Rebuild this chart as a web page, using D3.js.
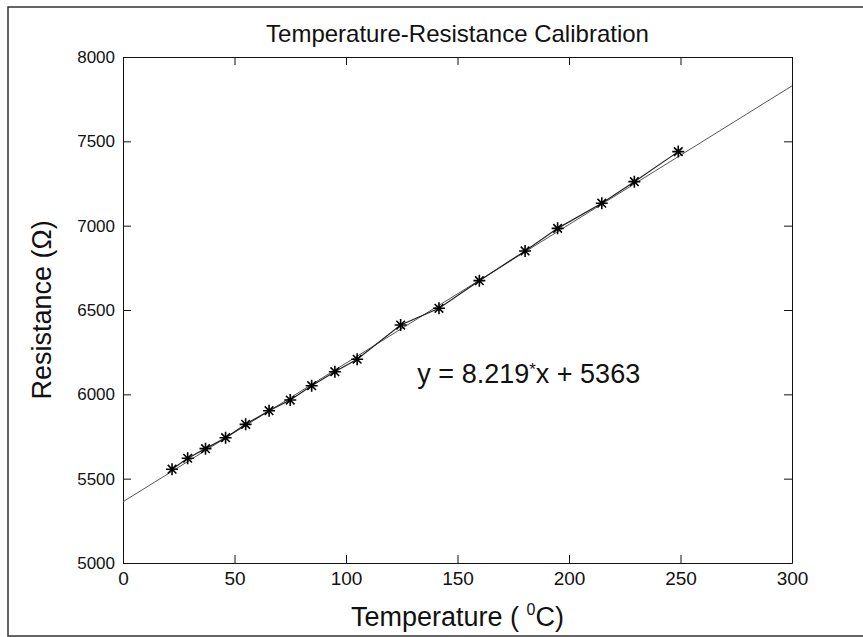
<!DOCTYPE html>
<html>
<head>
<meta charset="utf-8">
<script src="https://cdn.jsdelivr.net/npm/d3@7"></script>
<style>
  body { margin: 0; background: #fff; }
  svg text { font-family: "Liberation Sans", Arial, sans-serif; fill: #111; }
</style>
</head>
<body>
<svg id="chart"></svg>
<script>
// measured calibration points (temperature in C, resistance in ohms)
const temperature = [22, 29, 37, 46, 55, 65.5, 75, 84.6, 95, 105, 124.5, 141.7, 159.8, 180.3, 194.9, 214.7, 229.3, 249];
const resistance = [5556, 5621, 5678, 5743, 5822, 5903, 5966, 6051, 6134, 6208, 6411, 6510, 6674, 6850, 6984, 7133, 7261, 7439];

// linear fit reported on the chart
const fitSlope = 8.219;
const fitIntercept = 5363;
const fitRange = [0, 300];

const xTicks = [0, 50, 100, 150, 200, 250, 300];
const yTicks = [5000, 5500, 6000, 6500, 7000, 7500, 8000];

const margin = { top: 57, right: 71, bottom: 74, left: 123 };
const width = 863 - margin.left - margin.right;
const height = 637 - margin.top - margin.bottom;

const root = d3.select("#chart")
    .attr("width", 863)
    .attr("height", 637);

// outer figure frame
root.append("rect")
    .attr("x", 8)
    .attr("y", 7)
    .attr("width", 900)
    .attr("height", 629)
    .attr("fill", "none")
    .attr("stroke", "#333")
    .attr("stroke-width", 1.5);

const svg = root.append("g")
    .attr("transform", `translate(${margin.left},${margin.top})`);

const x = d3.scaleLinear().domain([0, 300]).range([0, width]);
const y = d3.scaleLinear().domain([5000, 8000]).range([height, 0]);

// axes, ticks pointing inward like matlab
svg.append("g")
    .attr("transform", `translate(0,${height})`)
    .call(d3.axisBottom(x).tickValues(xTicks).tickSizeInner(-8).tickSizeOuter(0).tickPadding(8).tickFormat(d3.format("d")))
    .call(g => g.selectAll("text").style("font-size", "19px").attr("dy", "0.72em"));

svg.append("g")
    .call(d3.axisTop(x).tickValues(xTicks).tickSizeInner(-8).tickSizeOuter(0).tickFormat(""));

svg.append("g")
    .call(d3.axisLeft(y).tickValues(yTicks).tickSizeInner(-8).tickSizeOuter(0).tickPadding(8).tickFormat(d3.format("d")))
    .call(g => g.selectAll("text").style("font-size", "17px"));

svg.append("g")
    .attr("transform", `translate(${width},0)`)
    .call(d3.axisRight(y).tickValues(yTicks).tickSizeInner(-8).tickSizeOuter(0).tickFormat(""));

svg.selectAll(".domain, .tick line").attr("stroke", "#111");

// fit line
svg.append("line")
    .attr("x1", x(fitRange[0]))
    .attr("y1", y(fitSlope * fitRange[0] + fitIntercept))
    .attr("x2", x(fitRange[1]))
    .attr("y2", y(fitSlope * fitRange[1] + fitIntercept))
    .attr("stroke", "#555")
    .attr("stroke-width", 1);

// data line
const pts = temperature.map((t, i) => [t, resistance[i]]);
svg.append("path")
    .datum(pts)
    .attr("fill", "none")
    .attr("stroke", "#222")
    .attr("stroke-width", 1.2)
    .attr("d", d3.line().x(d => x(d[0])).y(d => y(d[1])));

// asterisk markers
const r = 6, rd = 4.3;
const star = `M${-r},0L${r},0M0,${-r}L0,${r}M${-rd},${-rd}L${rd},${rd}M${-rd},${rd}L${rd},${-rd}`;
svg.selectAll(".marker")
    .data(pts)
    .enter()
    .append("path")
    .attr("class", "marker")
    .attr("transform", d => `translate(${x(d[0])},${y(d[1])})`)
    .attr("d", star)
    .attr("stroke", "#000")
    .attr("stroke-width", 1.6)
    .attr("fill", "none");

// equation label
const eq = svg.append("text")
    .attr("x", x(132))
    .attr("y", 383 - margin.top)
    .style("font-size", "27px");
eq.append("tspan").text(`y = ${fitSlope}`);
eq.append("tspan").attr("dy", -8).style("font-size", "17px").text("*");
eq.append("tspan").attr("dy", 8).text(`x + ${fitIntercept}`);

// title
svg.append("text")
    .attr("x", width / 2)
    .attr("y", -15)
    .attr("text-anchor", "middle")
    .style("font-size", "24px")
    .text("Temperature-Resistance Calibration");

// x label
const xl = svg.append("text")
    .attr("x", width / 2)
    .attr("y", height + 63)
    .attr("text-anchor", "middle")
    .style("font-size", "27px");
xl.append("tspan").text("Temperature ( ");
xl.append("tspan").attr("dy", -11).style("font-size", "16px").text("0");
xl.append("tspan").attr("dy", 11).text("C)");

// y label
svg.append("text")
    .attr("transform", "rotate(-90)")
    .attr("x", -height / 2)
    .attr("y", -72)
    .attr("text-anchor", "middle")
    .style("font-size", "27px")
    .text("Resistance (\u03A9)");
</script>
</body>
</html>
